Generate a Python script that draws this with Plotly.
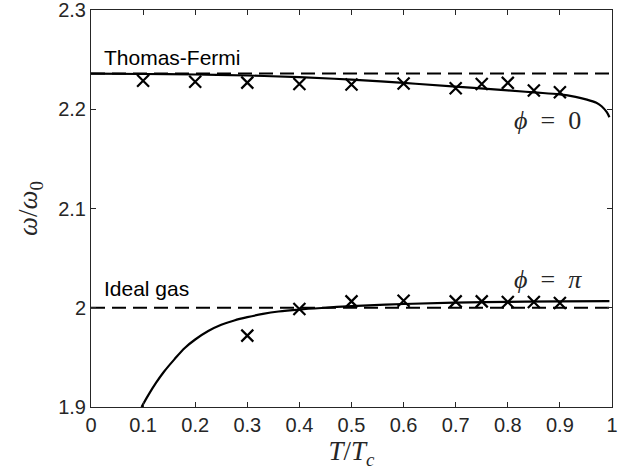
import plotly.graph_objects as go

# ---- data ----
t_markers = [0.1, 0.2, 0.3, 0.4, 0.5, 0.6, 0.7, 0.75, 0.8, 0.85, 0.9]
w_phi0_markers = [2.2288, 2.2278, 2.2268, 2.2255, 2.2250, 2.2260, 2.2212, 2.2255, 2.2266, 2.2188, 2.2171]

t_pi_markers = [0.3, 0.4, 0.5, 0.6, 0.7, 0.75, 0.8, 0.85, 0.9]
w_pi_markers = [1.9719, 1.9987, 2.0064, 2.0071, 2.0064, 2.0064, 2.0057, 2.0057, 2.0047]

t_phi0_curve = [0.0, 0.1, 0.2, 0.3, 0.4, 0.5, 0.6, 0.7, 0.8, 0.85, 0.9, 0.93, 0.95, 0.97, 0.98, 0.99, 0.995]
w_phi0_curve = [2.2358, 2.2355, 2.2350, 2.2340, 2.2323, 2.2298, 2.2265, 2.2228, 2.2190, 2.2170, 2.2150, 2.2125, 2.2100, 2.2065, 2.2030, 2.1970, 2.1920]

t_pi_curve = [0.097, 0.11, 0.125, 0.14, 0.16, 0.18, 0.2, 0.225, 0.25, 0.275, 0.3, 0.33, 0.36, 0.4, 0.45, 0.5, 0.6, 0.7, 0.8, 0.9, 0.995]
w_pi_curve = [1.9000, 1.9120, 1.9245, 1.9355, 1.9480, 1.9595, 1.9680, 1.9765, 1.9828, 1.9872, 1.9905,
              1.9938, 1.9962, 1.9982, 2.0000, 2.0016, 2.0038, 2.0051, 2.0059, 2.0064, 2.0067]

thomas_fermi = 2.2361
ideal_gas = 2.0

x_ticks = [0, 0.1, 0.2, 0.3, 0.4, 0.5, 0.6, 0.7, 0.8, 0.9, 1]
x_ticktext = ["0", "0.1", "0.2", "0.3", "0.4", "0.5", "0.6", "0.7", "0.8", "0.9", "1"]
y_ticks = [1.9, 2.0, 2.1, 2.2, 2.3]
y_ticktext = ["1.9", "2", "2.1", "2.2", "2.3"]

AX = "#262626"
SANS = "Liberation Sans, Arial, sans-serif"
SERIF = "Liberation Serif, DejaVu Serif, serif"
EN = "\u2002"

fig = go.Figure()

# reference dashed lines
for level in (thomas_fermi, ideal_gas):
    fig.add_trace(go.Scatter(x=[0, 1], y=[level, level], mode="lines",
                             line=dict(color="black", width=2, dash="14px,7px"), showlegend=False))

# curves
fig.add_trace(go.Scatter(x=t_phi0_curve, y=w_phi0_curve, mode="lines",
                         line=dict(color="black", width=2.2, shape="spline"), showlegend=False))
fig.add_trace(go.Scatter(x=t_pi_curve, y=w_pi_curve, mode="lines",
                         line=dict(color="black", width=2.2, shape="spline"), showlegend=False))

# markers
fig.add_trace(go.Scatter(x=t_markers, y=w_phi0_markers, mode="markers",
                         marker=dict(symbol="x-thin", size=12, line=dict(color="black", width=2.2)),
                         showlegend=False))
fig.add_trace(go.Scatter(x=t_pi_markers, y=w_pi_markers, mode="markers",
                         marker=dict(symbol="x-thin", size=12, line=dict(color="black", width=2.2)),
                         showlegend=False))

annos = [
    dict(x=0.021, y=2.252, text="Thomas-Fermi", xanchor="left", yanchor="middle",
         font=dict(family=SANS, size=21, color="black")),
    dict(x=0.021, y=2.019, text="Ideal gas", xanchor="left", yanchor="middle",
         font=dict(family=SANS, size=21, color="black")),
    dict(x=0.877, y=2.189, text="<i>ϕ</i>" + EN + "=" + EN + "0", xanchor="center", yanchor="middle",
         font=dict(family=SERIF, size=26, color=AX)),
    dict(x=0.877, y=2.028, text="<i>ϕ</i>" + EN + "=" + EN + "<i>π</i>", xanchor="center", yanchor="middle",
         font=dict(family=SERIF, size=26, color=AX)),
]
for a in annos:
    a.update(xref="x", yref="y", showarrow=False)
fig.update_layout(annotations=annos)

fig.update_layout(
    width=620, height=476,
    margin=dict(l=91, r=8, t=10, b=69),
    paper_bgcolor="white", plot_bgcolor="white",
    xaxis=dict(range=[0, 1], tickvals=x_ticks, ticktext=x_ticktext,
               ticks="inside", ticklen=5, tickwidth=1, tickcolor=AX,
               showline=True, linecolor=AX, linewidth=1, mirror="ticks",
               showgrid=False, zeroline=False, automargin=False,
               ticklabeloverflow="allow",
               tickfont=dict(family=SANS, size=20, color=AX),
               title=dict(text="<i>T</i>/<i>T</i><sub><i>c</i></sub>",
                          font=dict(family=SERIF, size=27, color=AX), standoff=4)),
    yaxis=dict(range=[1.9, 2.3], tickvals=y_ticks, ticktext=y_ticktext,
               ticks="inside", ticklen=5, tickwidth=1, tickcolor=AX,
               showline=True, linecolor=AX, linewidth=1, mirror="ticks",
               showgrid=False, zeroline=False, automargin=False,
               ticklabeloverflow="allow",
               tickfont=dict(family=SANS, size=20, color=AX),
               title=dict(text="<i>ω</i>/<i>ω</i><sub>0</sub>",
                          font=dict(family=SERIF, size=27, color=AX), standoff=12)),
)

fig.write_html("out.html", config={"displayModeBar": False},
               post_script="document.body.style.margin='0px';document.body.style.overflow='hidden';")
